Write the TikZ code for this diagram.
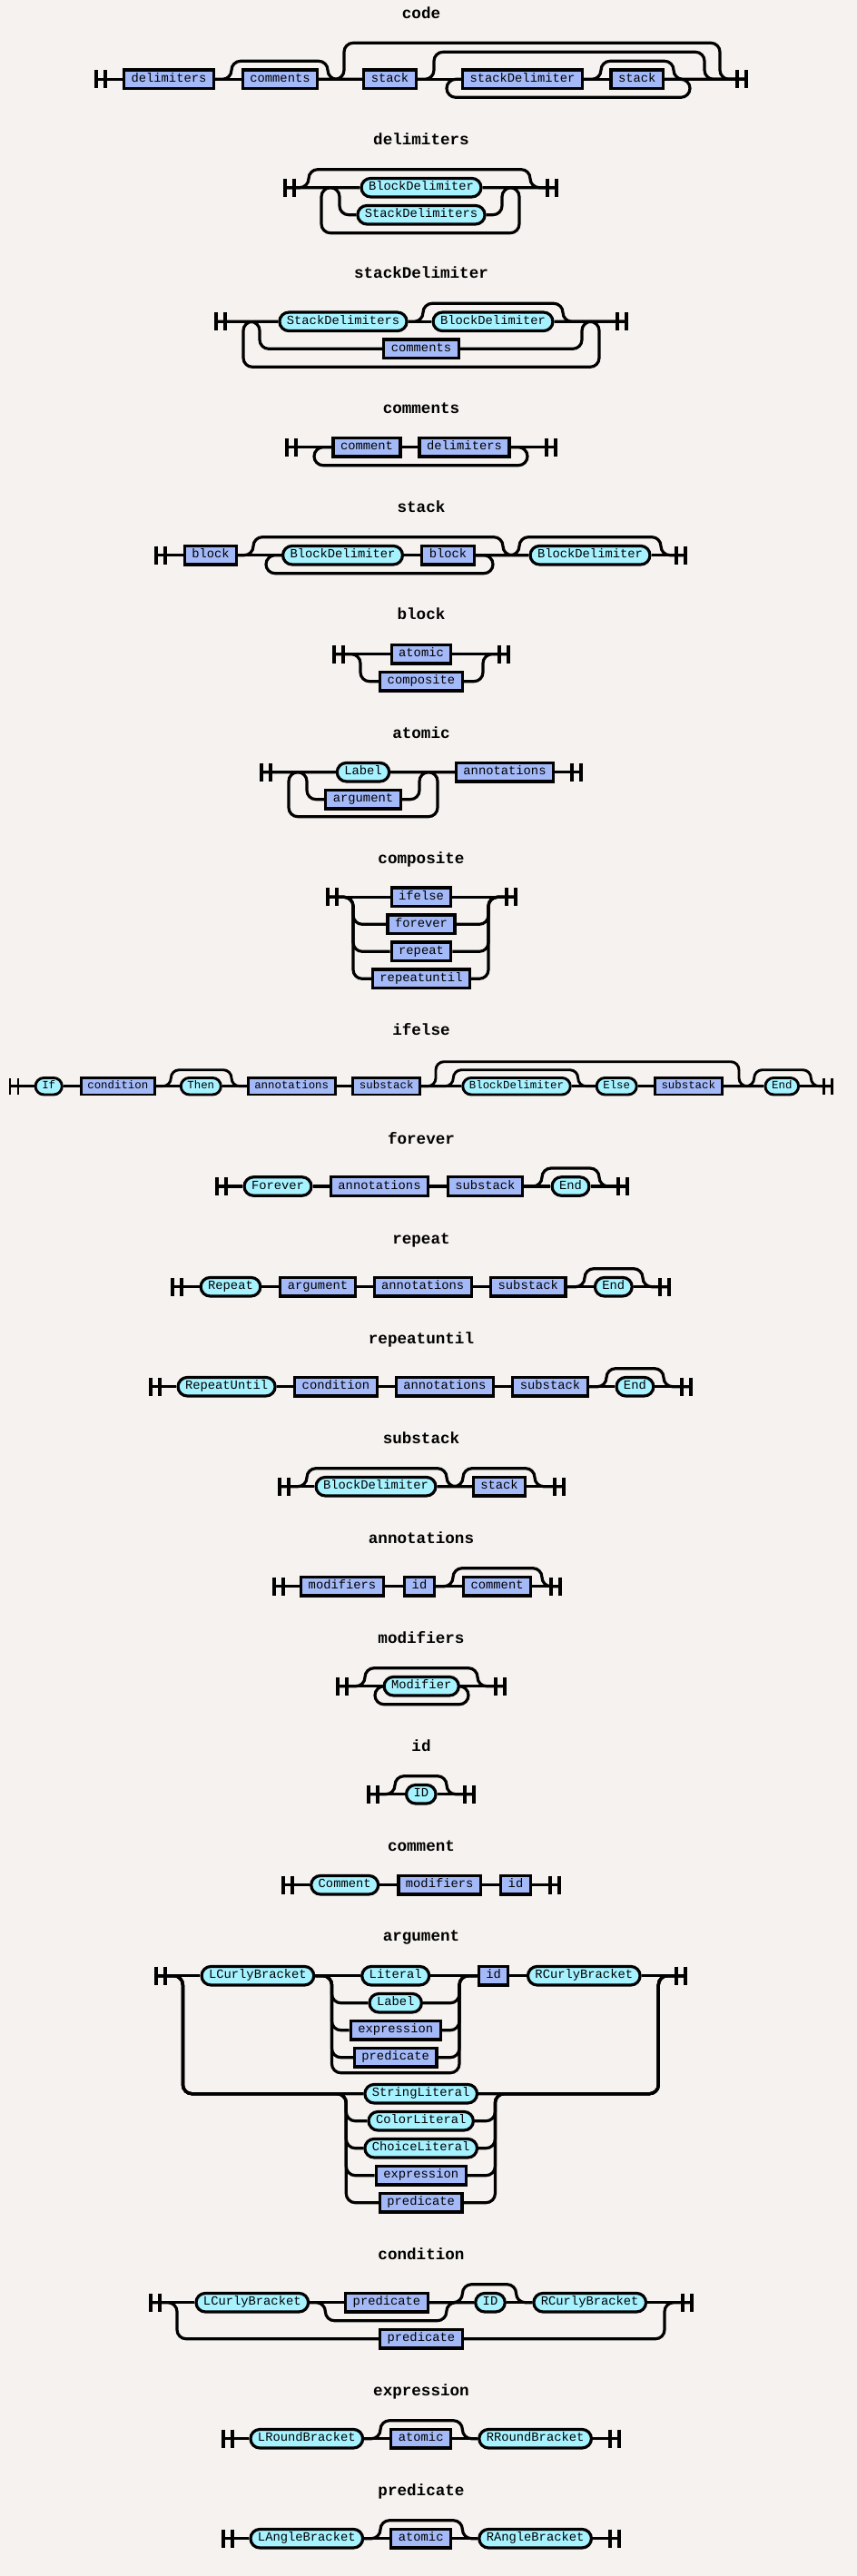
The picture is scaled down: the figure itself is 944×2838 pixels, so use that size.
\documentclass[tikz,border=0pt]{standalone}
\usepackage{fontspec}
\newfontfamily\rrmono{Liberation Mono}
\definecolor{bgcol}{HTML}{F5F2EF}
\definecolor{ntfill}{HTML}{A4B9F8}
\definecolor{tmfill}{HTML}{A6F2FF}
\newcommand\barh{10}
\newcommand\barw{10}
\newcommand\railbeg[2]{\draw[bar] (#2,-\barh) -- (#2,\barh) (#2+\barw,-\barh) -- (#2+\barw,\barh); \coordinate (#1) at (#2,0);}
\newcommand\railend[2]{\draw[bar] (#2,-\barh) -- (#2,\barh) (#2+\barw,-\barh) -- (#2+\barw,\barh); \coordinate (#1) at (#2+\barw,0);}
\begin{document}
\begin{tikzpicture}[x=1pt, y=-1pt,
  rail/.style={line width=3.2pt, rounded corners=10pt},
  bar/.style={line width=3.2pt},
  nt/.style={draw, line width=3.2pt, fill=ntfill, minimum height=20.5pt, inner xsep=8pt, inner ysep=0pt, text height=9pt, text depth=2.5pt, font=\rrmono\fontsize{13.8pt}{14pt}\selectfont},
  tm/.style={nt, fill=tmfill, rounded corners=10.25pt},
  title/.style={inner sep=0pt, text height=10pt, text depth=3pt, font=\rrmono\bfseries\fontsize{17.6pt}{18pt}\selectfont}]
\fill[bgcol] (0,0) rectangle (944,2838);
\useasboundingbox (0,0) rectangle (944,2838);

\node[title] (tcode) at (464,17) {code};
\begin{scope}[shift={(0,87.3)}]
\railbeg{cs}{106}
\node[nt] (c1) at (186,0) {delimiters};
\node[nt] (c2) at (308.5,0) {comments};
\node[nt] (c3) at (429.5,0) {stack};
\node[nt] (c4) at (575.5,0) {stackDelimiter};
\node[nt] (c5) at (701.7,0) {stack};
\railend{ce}{812}
\draw[rail] (cs) -- (c1);
\draw[rail] (c1) -- (c2);
\draw[rail] (c2) -- (c3);
\draw[rail] (c3) -- (c4);
\draw[rail] (c4) -- (c5);
\draw[rail] (c5) -- (ce);
\draw[rail] (c1.east) -- (255,0) -- (255,-20) -- (361,-20) -- (361,0) -- (c3.west);
\draw[rail] (c2.east) -- (379,0) -- (379,-40) -- (793,-40) -- (793,0) -- (ce);
\draw[rail] (c3.east) -- (478,0) -- (478,-30) -- (776,-30) -- (776,0) -- (ce);
\draw[rail] (c5.east) -- (760,0) -- (760,20) -- (492,20) -- (492,0) -- (c4.west);
\draw[rail] (c4.east) -- (662,0) -- (662,-20) -- (742,-20) -- (742,0) -- (ce);
\end{scope}

\node[title] (tdelim) at (464,156) {delimiters};
\begin{scope}[shift={(0,206.7)}]
\railbeg{ds}{314}
\node[tm] (d1) at (464,0) {BlockDelimiter};
\node[tm] (d2) at (464,30) {StackDelimiters};
\railend{de}{603}
\draw[rail] (ds) -- (d1);
\draw[rail] (d1) -- (de);
\draw[rail] (ds) -- (374,0) -- (374,30) -- (d2.west);
\draw[rail] (d2.east) -- (553,30) -- (553,0) -- (de);
\draw[rail] (d1.east) -- (572,0) -- (572,50) -- (354,50) -- (354,0) -- (d1.west);
\draw[rail] (ds) -- (340,0) -- (340,-20) -- (584,-20) -- (584,0) -- (de);
\end{scope}

\node[title] (tstackdel) at (464,303) {stackDelimiter};
\begin{scope}[shift={(0,354.3)}]
\railbeg{sds}{238}
\node[tm] (sd1) at (378,0) {StackDelimiters};
\node[tm] (sd2) at (543,0) {BlockDelimiter};
\node[nt] (sd3) at (464,30) {comments};
\railend{sde}{680}
\draw[rail] (sds) -- (sd1);
\draw[rail] (sd1) -- (sd2);
\draw[rail] (sd2) -- (sde);
\draw[rail] (sd1.east) -- (466,0) -- (466,-20) -- (620,-20) -- (620,0) -- (sde);
\draw[rail] (sds) -- (286,0) -- (286,30) -- (sd3.west);
\draw[rail] (sd3.east) -- (641,30) -- (641,0) -- (sde);
\draw[rail] (sd2.east) -- (660,0) -- (660,50) -- (268,50) -- (268,0) -- (sd1.west);
\end{scope}

\node[title] (tcomments) at (464,451.7) {comments};
\begin{scope}[shift={(0,492.7)}]
\railbeg{cms}{316}
\node[nt] (cm1) at (404,0) {comment};
\node[nt] (cm2) at (511.5,0) {delimiters};
\railend{cme}{602}
\draw[rail] (cms) -- (cm1);
\draw[rail] (cm1) -- (cm2);
\draw[rail] (cm2) -- (cme);
\draw[rail] (cm2.east) -- (581,0) -- (581,20) -- (346,20) -- (346,0) -- (cm1.west);
\end{scope}

\node[title] (tstack) at (464,560.7) {stack};
\begin{scope}[shift={(0,611.7)}]
\railbeg{sts}{172}
\node[nt] (st1) at (232,0) {block};
\node[tm] (st2) at (377.5,0) {BlockDelimiter};
\node[nt] (st3) at (493.5,0) {block};
\node[tm] (st4) at (650,0) {BlockDelimiter};
\railend{ste}{745}
\draw[rail] (sts) -- (st1);
\draw[rail] (st1) -- (st2);
\draw[rail] (st2) -- (st3);
\draw[rail] (st3) -- (st4);
\draw[rail] (st4) -- (ste);
\draw[rail] (st1.east) -- (279,0) -- (279,-20) -- (554,-20) -- (554,0) -- (st4.west);
\draw[rail] (st3.east) -- (543,0) -- (543,20) -- (293,20) -- (293,0) -- (st2.west);
\draw[rail] (st3.east) -- (572,0) -- (572,-20) -- (728,-20) -- (728,0) -- (ste);
\end{scope}

\node[title] (tblock) at (464,679.3) {block};
\begin{scope}[shift={(0,720.7)}]
\railbeg{bs}{368}
\node[nt] (b1) at (464,0) {atomic};
\node[nt] (b2) at (464,30) {composite};
\railend{be}{550}
\draw[rail] (bs) -- (b1);
\draw[rail] (b1) -- (be);
\draw[rail] (bs) -- (397,0) -- (397,30) -- (b2.west);
\draw[rail] (b2.east) -- (532,30) -- (532,0) -- (be);
\end{scope}

\node[title] (tatomic) at (464,810) {atomic};
\begin{scope}[shift={(0,850.7)}]
\railbeg{as}{288}
\node[tm] (a1) at (400,0) {Label};
\node[nt] (a2) at (400,30) {argument};
\node[nt] (a3) at (556,0) {annotations};
\railend{ae}{630}
\draw[rail] (as) -- (a1);
\draw[rail] (a1) -- (a3);
\draw[rail] (a3) -- (ae);
\draw[rail] (as) -- (338,0) -- (338,30) -- (a2.west);
\draw[rail] (a2.east) -- (462,30) -- (462,0) -- (a3.west);
\draw[rail] (a1.east) -- (482,0) -- (482,49) -- (318,49) -- (318,0) -- (a1.west);
\end{scope}

\node[title] (tcomposite) at (464,948.3) {composite};
\begin{scope}[shift={(0,988.3)}]
\railbeg{cps}{361}
\node[nt] (cp1) at (464,0) {ifelse};
\node[nt] (cp2) at (464,30) {forever};
\node[nt] (cp3) at (464,60) {repeat};
\node[nt] (cp4) at (464,90) {repeatuntil};
\railend{cpe}{558}
\draw[rail] (cps) -- (cp1);
\draw[rail] (cp1) -- (cpe);
\foreach \n/\y in {2/30,3/60,4/90} {
  \draw[rail] (cps) -- (389,0) -- (389,\y) -- (cp\n.west);
  \draw[rail] (cp\n.east) -- (538,\y) -- (538,0) -- (cpe);
}
\end{scope}

\node[title] (tifelse) at (464,1136.7) {ifelse};
\begin{scope}[shift={(0,1196.7)},
  rail/.append style={line width=2.9pt, rounded corners=9pt},
  bar/.append style={line width=2.9pt},
  nt/.append style={line width=2.9pt, minimum height=18.5pt, inner xsep=7.2pt, text height=8.1pt, text depth=2.2pt, font=\rrmono\fontsize{12.4pt}{13pt}\selectfont},
  tm/.append style={rounded corners=9.25pt}]
\renewcommand\barh{9}\renewcommand\barw{9}
\railbeg{ies}{11}
\node[tm] (ie1) at (53.7,0) {If};
\node[nt] (ie2) at (129.8,0) {condition};
\node[tm] (ie3) at (221.3,0) {Then};
\node[nt] (ie4) at (321.2,0) {annotations};
\node[nt] (ie5) at (425.7,0) {substack};
\node[tm] (ie6) at (569,0) {BlockDelimiter};
\node[tm] (ie7) at (679.2,0) {Else};
\node[nt] (ie8) at (758.3,0) {substack};
\node[tm] (ie9) at (861.3,0) {End};
\railend{iee}{907.7}
\draw[rail] (ies) -- (ie1);
\draw[rail] (ie1) -- (ie2);
\draw[rail] (ie2) -- (ie3);
\draw[rail] (ie3) -- (ie4);
\draw[rail] (ie4) -- (ie5);
\draw[rail] (ie5) -- (ie6);
\draw[rail] (ie6) -- (ie7);
\draw[rail] (ie7) -- (ie8);
\draw[rail] (ie8) -- (ie9);
\draw[rail] (ie9) -- (iee);
\draw[rail] (ie2.east) -- (188.3,0) -- (188.3,-18) -- (255,-18) -- (255,0) -- (ie4.west);
\draw[rail] (ie5.east) -- (480,0) -- (480,-27) -- (814,-27) -- (814,0) -- (ie9.west);
\draw[rail] (ie5.east) -- (499.3,0) -- (499.3,-18) -- (636.7,-18) -- (636.7,0) -- (ie7.west);
\draw[rail] (ie8.east) -- (830.7,0) -- (830.7,-18) -- (893.3,-18) -- (893.3,0) -- (iee);
\end{scope}

\node[title] (tforever) at (464,1256.7) {forever};
\begin{scope}[shift={(0,1307)}]
\railbeg{fvs}{239}
\node[tm] (fv1) at (306,0) {Forever};
\node[nt] (fv2) at (418,0) {annotations};
\node[nt] (fv3) at (534.4,0) {substack};
\node[tm] (fv4) at (628.5,0) {End};
\railend{fve}{681}
\draw[rail] (fvs) -- (fv1);
\draw[rail] (fv1) -- (fv2);
\draw[rail] (fv2) -- (fv3);
\draw[rail] (fv3) -- (fv4);
\draw[rail] (fv4) -- (fve);
\draw[rail] (fv3.east) -- (597,0) -- (597,-20) -- (660,-20) -- (660,0) -- (fve);
\end{scope}

\node[title] (trepeat) at (464,1366.7) {repeat};
\begin{scope}[shift={(0,1417.7)}]
\railbeg{rps}{190}
\node[tm] (rp1) at (254,0) {Repeat};
\node[nt] (rp2) at (350,0) {argument};
\node[nt] (rp3) at (465.7,0) {annotations};
\node[nt] (rp4) at (581.8,0) {substack};
\node[tm] (rp5) at (675.8,0) {End};
\railend{rpe}{727}
\draw[rail] (rps) -- (rp1);
\draw[rail] (rp1) -- (rp2);
\draw[rail] (rp2) -- (rp3);
\draw[rail] (rp3) -- (rp4);
\draw[rail] (rp4) -- (rp5);
\draw[rail] (rp5) -- (rpe);
\draw[rail] (rp4.east) -- (644,0) -- (644,-20) -- (708,-20) -- (708,0) -- (rpe);
\end{scope}

\node[title] (trepuntil) at (464,1476.7) {repeatuntil};
\begin{scope}[shift={(0,1527.7)}]
\railbeg{rus}{166}
\node[tm] (ru1) at (249.6,0) {RepeatUntil};
\node[nt] (ru2) at (370,0) {condition};
\node[nt] (ru3) at (489.8,0) {annotations};
\node[nt] (ru4) at (606,0) {substack};
\node[tm] (ru5) at (699.4,0) {End};
\railend{rue}{751}
\draw[rail] (rus) -- (ru1);
\draw[rail] (ru1) -- (ru2);
\draw[rail] (ru2) -- (ru3);
\draw[rail] (ru3) -- (ru4);
\draw[rail] (ru4) -- (ru5);
\draw[rail] (ru5) -- (rue);
\draw[rail] (ru4.east) -- (668,0) -- (668,-20) -- (731,-20) -- (731,0) -- (rue);
\end{scope}

\node[title] (tsubstack) at (464,1586.7) {substack};
\begin{scope}[shift={(0,1637.7)}]
\railbeg{sss}{308}
\node[tm] (ss1) at (414,0) {BlockDelimiter};
\node[nt] (ss2) at (550,0) {stack};
\railend{sse}{611}
\draw[rail] (sss) -- (ss1);
\draw[rail] (ss1) -- (ss2);
\draw[rail] (ss2) -- (sse);
\draw[rail] (sss) -- (338,0) -- (338,-20) -- (492,-20) -- (492,0) -- (ss2.west);
\draw[rail] (ss1.east) -- (510,0) -- (510,-20) -- (589,-20) -- (589,0) -- (sse);
\end{scope}

\node[title] (tannot) at (464,1696.7) {annotations};
\begin{scope}[shift={(0,1747.7)}]
\railbeg{ans}{302}
\node[nt] (an1) at (377,0) {modifiers};
\node[nt] (an2) at (462,0) {id};
\node[nt] (an3) at (547.6,0) {comment};
\railend{ane}{607}
\draw[rail] (ans) -- (an1);
\draw[rail] (an1) -- (an2);
\draw[rail] (an2) -- (an3);
\draw[rail] (an3) -- (ane);
\draw[rail] (an2.east) -- (499,0) -- (499,-20) -- (597,-20) -- (597,0) -- (ane);
\end{scope}

\node[title] (tmodifiers) at (464,1806.7) {modifiers};
\begin{scope}[shift={(0,1857.7)}]
\railbeg{mds}{372}
\node[tm] (md1) at (464.2,0) {Modifier};
\railend{mde}{546}
\draw[rail] (mds) -- (md1);
\draw[rail] (md1) -- (mde);
\draw[rail] (mds) -- (402,0) -- (402,-20) -- (526,-20) -- (526,0) -- (mde);
\draw[rail] (md1.east) -- (516,0) -- (516,20) -- (413,20) -- (413,0) -- (md1.west);
\end{scope}

\node[title] (tid) at (464,1925.7) {id};
\begin{scope}[shift={(0,1976.7)}]
\railbeg{ids}{406}
\node[tm] (id1) at (463.8,0) {ID};
\railend{ide}{512}
\draw[rail] (ids) -- (id1);
\draw[rail] (id1) -- (ide);
\draw[rail] (ids) -- (435,0) -- (435,-20) -- (492,-20) -- (492,0) -- (ide);
\end{scope}

\node[title] (tcomment) at (464,2036) {comment};
\begin{scope}[shift={(0,2076.7)}]
\railbeg{cos}{312}
\node[tm] (co1) at (379.7,0) {Comment};
\node[nt] (co2) at (484.2,0) {modifiers};
\node[nt] (co3) at (568,0) {id};
\railend{coe}{606}
\draw[rail] (cos) -- (co1);
\draw[rail] (co1) -- (co2);
\draw[rail] (co2) -- (co3);
\draw[rail] (co3) -- (coe);
\end{scope}

\node[title] (targument) at (464,2135) {argument};
\begin{scope}[shift={(0,2176.7)}]
\railbeg{ars}{172}
\node[tm] (ar1) at (283.9,0) {LCurlyBracket};
\node[tm] (ar2) at (435.7,0) {Literal};
\node[tm] (ar3) at (435.7,30) {Label};
\node[nt] (ar4) at (435.7,60) {expression};
\node[nt] (ar5) at (435.7,90) {predicate};
\node[nt] (ar6) at (543.6,0) {id};
\node[tm] (ar7) at (643.3,0) {RCurlyBracket};
\node[tm] (ar8) at (463.7,130) {StringLiteral};
\node[tm] (ar9) at (463.7,160) {ColorLiteral};
\node[tm] (ar10) at (463.7,190) {ChoiceLiteral};
\node[nt] (ar11) at (463.7,220) {expression};
\node[nt] (ar12) at (463.7,250) {predicate};
\railend{are}{745}
\draw[rail] (ars) -- (ar1);
\draw[rail] (ar1) -- (ar2);
\draw[rail] (ar2) -- (ar6);
\draw[rail] (ar6) -- (ar7);
\draw[rail] (ar7) -- (are);
\foreach \n/\y in {3/30,4/60,5/90} {
  \draw[rail] (ar1.east) -- (365.5,0) -- (365.5,\y) -- (ar\n.west);
  \draw[rail] (ar\n.east) -- (506,\y) -- (506,0) -- (ar6.west);
}
\draw[rail] (ar1.east) -- (365.5,0) -- (365.5,107) -- (506,107) -- (506,0) -- (ar6.west);
\draw[rail] (ars) -- (201.4,0) -- (201.4,130) -- (ar8.west);
\draw[rail] (ar8.east) -- (725.3,130) -- (725.3,0) -- (are);
\foreach \n/\y in {9/160,10/190,11/220,12/250} {
  \draw[rail] (ars) -- (201.4,0) -- (201.4,130) -- (381.3,130) -- (381.3,\y) -- (ar\n.west);
  \draw[rail] (ar\n.east) -- (545.4,\y) -- (545.4,130) -- (725.3,130) -- (725.3,0) -- (are);
}
\end{scope}

\node[title] (tcondition) at (464,2485.7) {condition};
\begin{scope}[shift={(0,2536.7)}]
\railbeg{cns}{166}
\node[tm] (cn1) at (277.8,0) {LCurlyBracket};
\node[nt] (cn2) at (426,0) {predicate};
\node[tm] (cn3) at (540,0) {ID};
\node[tm] (cn4) at (649.7,0) {RCurlyBracket};
\node[nt] (cn5) at (463.9,40) {predicate};
\railend{cne}{752}
\draw[rail] (cns) -- (cn1);
\draw[rail] (cn1) -- (cn2);
\draw[rail] (cn2) -- (cn3);
\draw[rail] (cn3) -- (cn4);
\draw[rail] (cn4) -- (cne);
\draw[rail] (cn1.east) -- (358.4,0) -- (358.4,20) -- (491.8,20) -- (491.8,0) -- (cn3.west);
\draw[rail] (cn2.east) -- (509.4,0) -- (509.4,-20) -- (568.6,-20) -- (568.6,0) -- (cn4.west);
\draw[rail] (cns) -- (195,0) -- (195,40) -- (cn5.west);
\draw[rail] (cn5.east) -- (732,40) -- (732,0) -- (cne);
\end{scope}

\node[title] (texpression) at (464,2635.7) {expression};
\begin{scope}[shift={(0,2686.7)}]
\railbeg{exs}{246}
\node[tm] (ex1) at (337.8,0) {LRoundBracket};
\node[nt] (ex2) at (463.7,0) {atomic};
\node[tm] (ex3) at (589.6,0) {RRoundBracket};
\railend{exe}{672}
\draw[rail] (exs) -- (ex1);
\draw[rail] (ex1) -- (ex2);
\draw[rail] (ex2) -- (ex3);
\draw[rail] (ex3) -- (exe);
\draw[rail] (ex1.east) -- (419,0) -- (419,-20) -- (509.4,-20) -- (509.4,0) -- (ex3.west);
\end{scope}

\node[title] (tpredicate) at (464,2745.7) {predicate};
\begin{scope}[shift={(0,2796.7)}]
\railbeg{prs}{246}
\node[tm] (pr1) at (337.8,0) {LAngleBracket};
\node[nt] (pr2) at (463.7,0) {atomic};
\node[tm] (pr3) at (589.6,0) {RAngleBracket};
\railend{pre}{672}
\draw[rail] (prs) -- (pr1);
\draw[rail] (pr1) -- (pr2);
\draw[rail] (pr2) -- (pr3);
\draw[rail] (pr3) -- (pre);
\draw[rail] (pr1.east) -- (419,0) -- (419,-20) -- (509.4,-20) -- (509.4,0) -- (pr3.west);
\end{scope}
\end{tikzpicture}
\end{document}
